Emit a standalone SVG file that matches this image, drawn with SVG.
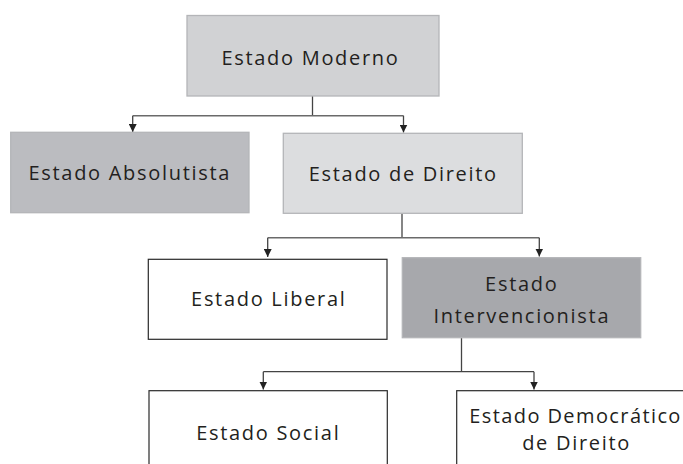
<svg xmlns="http://www.w3.org/2000/svg" width="683" height="464" viewBox="0 0 683 464">
<style>
.box-g{stroke:#b4b5b8;stroke-width:1.3}
.box-w{fill:#ffffff;stroke:#2a2a2a;stroke-width:1.2}
.lbl{font-family:"Open Sans","Noto Sans",sans-serif;font-size:20px;letter-spacing:1.7px;fill:#231f20;text-anchor:middle}
.con{fill:none;stroke:#444;stroke-width:1.3}
.h{stroke:#6a6a6a;stroke-width:1.6}
</style>
<defs>
<marker id="arr" markerUnits="userSpaceOnUse" markerWidth="8" markerHeight="8" viewBox="0 0 8 8" refX="8" refY="4" orient="auto">
<path d="M0,0 L8,4 L0,8 Z" fill="#222"/>
</marker>
</defs>
<rect width="683" height="464" fill="#ffffff"/>
<g id="connectors">
<path class="con" d="M312.5,96 V115.7"/>
<path class="con h" d="M132.7,115.7 H403.5"/>
<path class="con" d="M132.7,115.7 V132" marker-end="url(#arr)"/>
<path class="con" d="M403.5,115.7 V132.5" marker-end="url(#arr)"/>
<path class="con" d="M402,213.3 V237.7"/>
<path class="con h" d="M267.7,237.7 H539.3"/>
<path class="con" d="M267.7,237.7 V257" marker-end="url(#arr)"/>
<path class="con" d="M539.3,237.7 V256.5" marker-end="url(#arr)"/>
<path class="con" d="M461.5,337.7 V371.7"/>
<path class="con" d="M263.3,371.7 H534"/>
<path class="con" d="M263.3,371.7 V389.5" marker-end="url(#arr)"/>
<path class="con" d="M534,371.7 V389.5" marker-end="url(#arr)"/>
</g>
<g id="estado-moderno">
<rect class="box-g" x="187" y="15.5" width="252" height="80.5" fill="#d1d2d4"/>
<text class="lbl" x="310.5" y="65">Estado Moderno</text>
</g>
<g id="estado-absolutista">
<rect class="box-g" x="10.7" y="132.3" width="238.3" height="80.4" fill="#bbbcc0"/>
<text class="lbl" x="129.8" y="180">Estado Absolutista</text>
</g>
<g id="estado-de-direito">
<rect class="box-g" x="283.3" y="133.3" width="239" height="80" fill="#dcdddf"/>
<text class="lbl" x="403.3" y="181">Estado de Direito</text>
</g>
<g id="estado-liberal">
<rect class="box-w" x="148.3" y="259.3" width="238.7" height="80"/>
<text class="lbl" x="268.8" y="305.7">Estado Liberal</text>
</g>
<g id="estado-intervencionista">
<rect class="box-g" x="402.3" y="257.7" width="238.4" height="80" fill="#a7a8ac" stroke="#8e8f93"/>
<text class="lbl" x="521.8" y="290.7">Estado</text>
<text class="lbl" x="521.8" y="322.7">Intervencionista</text>
</g>
<g id="estado-social">
<rect class="box-w" x="149" y="390.7" width="238.3" height="90"/>
<text class="lbl" x="268.3" y="440">Estado Social</text>
</g>
<g id="estado-democratico">
<rect class="box-w" x="456.7" y="390.7" width="238.3" height="90"/>
<text class="lbl" x="469.3" y="422.7" style="text-anchor:start;letter-spacing:1.4px">Estado Democrático</text>
<text class="lbl" x="576.6" y="450">de Direito</text>
</g>
</svg>
